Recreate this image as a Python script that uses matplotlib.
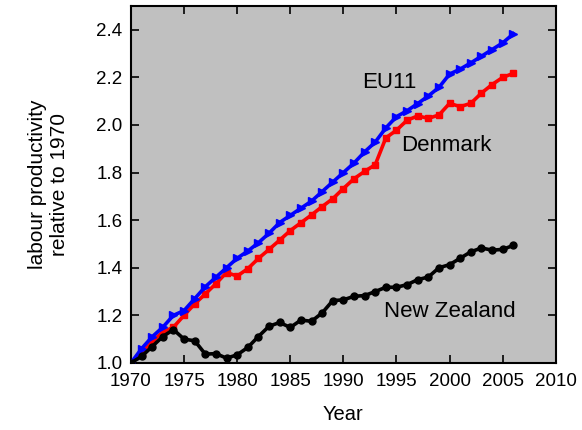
import numpy as np
import matplotlib.pyplot as plt

plt.rcParams['font.family'] = ['Liberation Sans', 'DejaVu Sans']

# Labour productivity indices, 1970 = 1.0
years = np.arange(1970, 2007)

eu11 = [1.00, 1.06, 1.11, 1.15, 1.20, 1.22, 1.27, 1.32, 1.36, 1.40,
        1.44, 1.47, 1.505, 1.545, 1.59, 1.62, 1.65, 1.68, 1.72, 1.76,
        1.80, 1.84, 1.887, 1.928, 1.988, 2.035, 2.06, 2.09, 2.122, 2.158,
        2.214, 2.235, 2.261, 2.289, 2.317, 2.345, 2.383]

denmark = [1.00, 1.04, 1.09, 1.13, 1.15, 1.20, 1.248, 1.29, 1.333, 1.38,
           1.365, 1.396, 1.439, 1.477, 1.516, 1.556, 1.589, 1.622, 1.657, 1.69,
           1.733, 1.774, 1.805, 1.833, 1.946, 1.978, 2.02, 2.038, 2.028, 2.042,
           2.091, 2.077, 2.091, 2.134, 2.17, 2.20, 2.217]

new_zealand = [1.00, 1.027, 1.069, 1.111, 1.14, 1.10, 1.093, 1.037, 1.039, 1.02,
               1.034, 1.065, 1.111, 1.154, 1.17, 1.149, 1.18, 1.175, 1.21, 1.262,
               1.265, 1.28, 1.283, 1.30, 1.318, 1.318, 1.329, 1.35, 1.361, 1.40,
               1.413, 1.44, 1.467, 1.483, 1.474, 1.477, 1.494]

fig = plt.figure(figsize=(5.82, 4.30), dpi=100)
ax = fig.add_axes([0.225, 0.156, 0.730, 0.830])
ax.set_facecolor('#c0c0c0')

ax.plot(years, denmark, color='#ff0000', lw=2.6, marker='s', ms=4.5, zorder=3)
ax.plot(years, eu11, color='#0000ff', lw=2.6, marker='>', ms=5.5, zorder=4)
ax.plot(years, new_zealand, color='black', lw=2.6, marker='o', ms=5, zorder=5)

ax.text(1991.8, 2.18, 'EU11', fontsize=16, va='center', ha='left')
ax.text(1995.4, 1.914, 'Denmark', fontsize=16, va='center', ha='left')
ax.text(1993.8, 1.216, 'New Zealand', fontsize=16, va='center', ha='left')

ax.set_xlim(1970, 2010)
ax.set_ylim(1.0, 2.5)
ax.set_xticks(np.arange(1970, 2011, 5))
ax.set_yticks(np.arange(1.0, 2.41, 0.2))
ax.set_yticklabels(['%.1f' % v for v in np.arange(1.0, 2.41, 0.2)])

ax.tick_params(direction='in', top=True, right=True, length=5.5, width=1.2,
               labelsize=13.5)
ax.tick_params(axis='x', pad=7)
ax.tick_params(axis='y', pad=6)
for s in ax.spines.values():
    s.set_linewidth(1.5)

ax.set_xlabel('Year', fontsize=14.5, labelpad=11)
ax.set_ylabel('labour productivity\nrelative to 1970', fontsize=15, labelpad=20)

fig.savefig('out.png', dpi=100)
